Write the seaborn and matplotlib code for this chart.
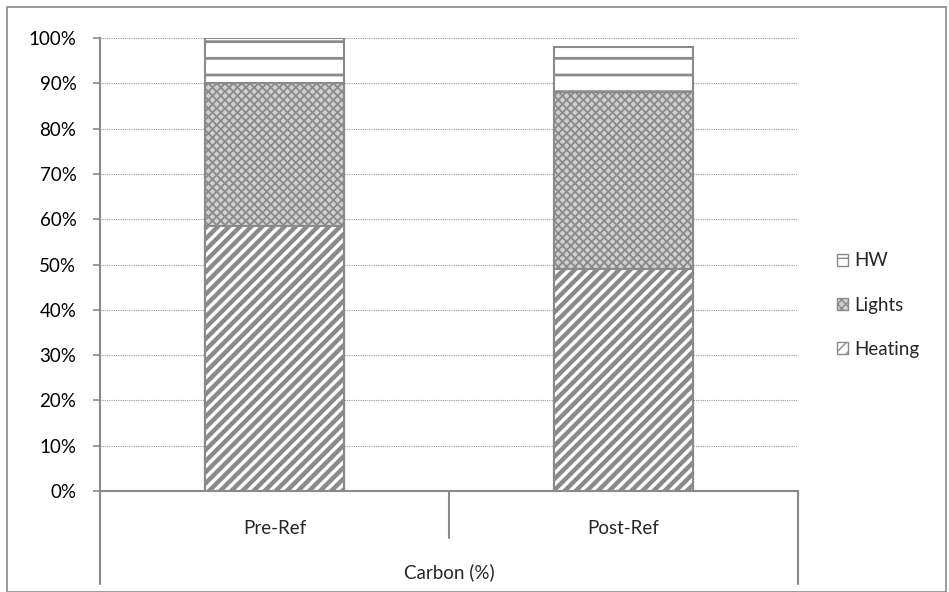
import matplotlib
matplotlib.use("Agg")
import matplotlib.pyplot as plt
import seaborn as sns
import pandas as pd
import numpy as np
from matplotlib.patches import Patch, Rectangle

categories = ["Pre-Ref", "Post-Ref"]
heating = [58.5, 49.0]
lights = [31.5, 39.0]
hw = [10.0, 10.0]
yticks = [0, 10, 20, 30, 40, 50, 60, 70, 80, 90, 100]
group_label = "Carbon (%)"

sns.set_theme(style="white")
plt.rcParams['font.family'] = ['Lato', 'DejaVu Sans']

FS = 13.5
fig = plt.figure(figsize=(9.49, 5.92), dpi=100)
W, H = 949, 592
ax = fig.add_axes([100 / W, (592 - 491) / H, (798 - 100) / W, (491 - 38) / H])

df = pd.DataFrame({"cat": categories, "heating": heating, "lights": lights, "hw": hw})
df["c2"] = df["heating"] + df["lights"]
df["c3"] = df["c2"] + df["hw"]

edge = "#8a8a8a"
layers = [("c3", "HW", "-", "white", 2.0),
          ("c2", "Lights", "xxxx", "#cfcfcf", 1.3),
          ("heating", "Heating", "///", "white", 3.2)]
for col, name, hatch, fc, hlw in layers:
    plt.rcParams['hatch.linewidth'] = hlw
    sns.barplot(data=df, x="cat", y=col, ax=ax, width=0.4, color=fc,
                edgecolor=edge, linewidth=1.5, hatch=hatch, saturation=1, errorbar=None)
for p in ax.patches:
    p.set_edgecolor(edge)

ax.set_xlim(-0.5, 1.5)
ax.set_ylim(0, 100)
ax.set_yticks(yticks)
ax.set_yticklabels([f"{v}%" for v in yticks], fontsize=FS, color="#000000")
ax.set_xticks([0, 1])
ax.set_xticklabels(categories, fontsize=FS)
ax.tick_params(axis="x", length=0, pad=21)
ax.tick_params(axis="y", length=5, width=1.2, color=edge, left=True, pad=12)
ax.set_xlabel("")
ax.set_ylabel("")
ax.yaxis.grid(True, linestyle=(0, (1, 1)), color="#9a9a9a", linewidth=0.8)
ax.set_axisbelow(True)
for s in ["top", "right"]:
    ax.spines[s].set_visible(False)
ax.spines["left"].set_color(edge)
ax.spines["left"].set_linewidth(1.5)
ax.spines["bottom"].set_color(edge)
ax.spines["bottom"].set_linewidth(1.5)

tr = ax.get_xaxis_transform()
ax.plot([-0.5, -0.5], [0, -0.205], color=edge, lw=1.5, transform=tr, clip_on=False)
ax.plot([1.5, 1.5], [0, -0.205], color=edge, lw=1.5, transform=tr, clip_on=False)
ax.plot([0.5, 0.5], [0, -0.104], color=edge, lw=1.5, transform=tr, clip_on=False)
ax.text(0.5, -0.18, group_label, transform=tr, ha="center", va="center", fontsize=FS)

plt.rcParams['hatch.linewidth'] = 1.0
handles = [Patch(facecolor="white", edgecolor=edge, hatch="-", label="HW"),
           Patch(facecolor="#cfcfcf", edgecolor=edge, hatch="xxxx", label="Lights"),
           Patch(facecolor="white", edgecolor=edge, hatch="///", label="Heating")]
leg = fig.legend(handles=handles, loc="center left", bbox_to_anchor=(820 / W, 1 - 305 / H),
                 frameon=False, fontsize=FS, handlelength=0.6, handleheight=0.6,
                 handletextpad=0.3, labelspacing=1.45)

fig.patches.append(Rectangle((7 / W, 0), 939 / W, 1 - 7 / H, transform=fig.transFigure,
                             fill=False, edgecolor=edge, linewidth=1.2))

fig.savefig("out.png", dpi=100)
